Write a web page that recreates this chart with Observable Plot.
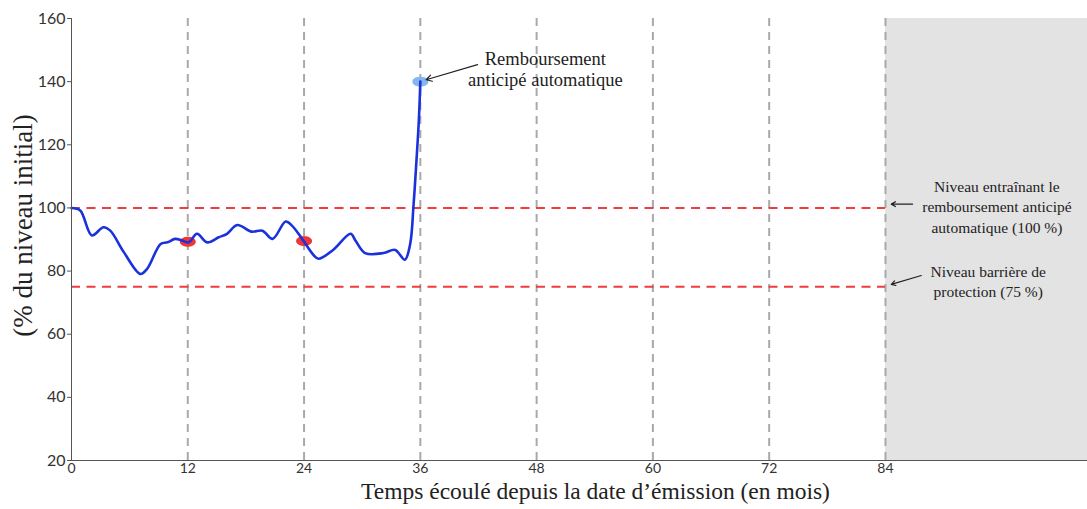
<!DOCTYPE html>
<html>
<head>
<meta charset="utf-8">
<script src="https://cdn.jsdelivr.net/npm/d3@7"></script>
<script src="https://cdn.jsdelivr.net/npm/@observablehq/plot@0.6"></script>
<style>
  html, body { margin: 0; padding: 0; background: #fff; }
  #chart svg { display: block; }
</style>
</head>
<body>
<div id="chart"></div>
<script>
// Underlying path (% of initial level) by elapsed month
const months = [0, 0.9, 2.1, 3.3, 4.0, 5.4, 7.1, 7.8, 9.2, 9.9, 10.7, 11.4, 12.1, 12.95, 14.0, 15.2, 16.05, 17.1, 18.6, 19.7, 20.75, 22.1, 22.75, 23.8, 25.0, 25.5, 27.0, 28.8, 29.3, 30.3, 32.2, 33.4, 34.4, 34.95, 35.3, 35.6, 35.85, 36];
const values = [100, 99.2, 91.3, 93.9, 92.8, 86, 79.1, 80.7, 88.6, 89.1, 90.2, 89.7, 89.1, 91.8, 89.1, 90.7, 91.8, 94.6, 92.5, 92.8, 90.2, 95.7, 94.4, 90.2, 85, 83.9, 86.7, 91.8, 89.7, 85.7, 85.7, 86.7, 83.6, 88.6, 101, 115, 128, 140];

const observationMonths = [12, 24];
const observationValues = [89.3, 89.5];
const earlyRedemptionMonth = 36;
const earlyRedemptionValue = 140;

const xTicks = [0, 12, 24, 36, 48, 60, 72, 84];
const yTicks = [20, 40, 60, 80, 100, 120, 140, 160];
const gridMonths = [12, 24, 36, 48, 60, 72, 84];
const autocallLevel = 100;
const barrierLevel = 75;
const maturityMonth = 84;
const xMax = 104.85;

const yLabel = "(% du niveau initial)";
const xLabel = "Temps écoulé depuis la date d’émission (en mois)";
const noteTop = "Remboursement\nanticipé automatique";
const noteAutocall = "Niveau entraînant le\nremboursement anticipé\nautomatique (100 %)";
const noteBarrier = "Niveau barrière de\nprotection (75 %)";

const series = months.map((m, i) => ({m, v: values[i]}));
const obs = observationMonths.map((m, i) => ({m, v: observationValues[i]}));

const ellipse = {
  draw(ctx, size) {
    const r = Math.sqrt(size / Math.PI);
    const rx = r * 1.6, ry = r;
    ctx.moveTo(rx, 0);
    for (let i = 1; i < 40; i++) {
      const a = i / 40 * 2 * Math.PI;
      ctx.lineTo(rx * Math.cos(a), ry * Math.sin(a));
    }
    ctx.closePath();
  }
};

const serif = "'Liberation Serif', 'DejaVu Serif', serif";
const sans = "'Liberation Sans Narrow', Lato, 'Open Sans', sans-serif";

const chart = Plot.plot({
  width: 1087,
  height: 509,
  marginLeft: 71,
  marginRight: 0,
  marginTop: 18,
  marginBottom: 49,
  style: {fontFamily: sans, background: "#fff"},
  x: {domain: [0, xMax]},
  y: {domain: [20, 160]},
  marks: [
    Plot.rect([{x1: maturityMonth, x2: xMax, y1: 20, y2: 160}], {x1: "x1", x2: "x2", y1: "y1", y2: "y2", fill: "#e3e3e3"}),
    Plot.ruleX(gridMonths, {y1: 20, y2: 160, stroke: "#a9a9a9", strokeWidth: 2, strokeDasharray: "8,6"}),
    Plot.ruleY([autocallLevel, barrierLevel], {x1: 0, x2: maturityMonth, stroke: "#f03c3c", strokeWidth: 2, strokeDasharray: "9,6.5"}),
    Plot.dot(obs, {x: "m", y: "v", r: 5, symbol: ellipse, fill: "#f03535", stroke: "none"}),
    Plot.dot([{m: earlyRedemptionMonth, v: earlyRedemptionValue}], {x: "m", y: "v", r: 5, symbol: ellipse, fill: "#86b6f0", stroke: "none"}),
    Plot.line(series, {x: "m", y: "v", curve: "catmull-rom", stroke: "#1a32dc", strokeWidth: 2.6}),
    Plot.ruleY([20], {x1: 0, x2: xMax, stroke: "#555", strokeWidth: 1}),
    Plot.ruleX([0], {y1: 20, y2: 160, stroke: "#555", strokeWidth: 1}),
    Plot.axisY({ticks: yTicks, tickSize: 4, tickPadding: 2, fontSize: 16, color: "#333", label: null, stroke: "#555"}),
    Plot.axisX({ticks: xTicks, tickSize: 0, tickPadding: 3, fontSize: 14, color: "#333", label: null}),
    Plot.text([yLabel], {frameAnchor: "left", textAnchor: "middle", rotate: -90, dx: -48, dy: -14, fontSize: 27, fontFamily: serif, fill: "#222"}),
    Plot.text([xLabel], {frameAnchor: "bottom", textAnchor: "middle", dx: 16, dy: 38.5, fontSize: 23.5, fontFamily: serif, fill: "#222"}),
    Plot.text([noteTop], {x: 48.9, y: 144, fontSize: 18.5, lineHeight: 1.15, fontFamily: serif, fill: "#222"}),
    Plot.arrow([{x1: 41.9, y1: 145.4, x2: 36.6, y2: 140.6}], {x1: "x1", y1: "y1", x2: "x2", y2: "y2", stroke: "#222", strokeWidth: 1.2, headLength: 8}),
    Plot.text([noteAutocall], {x: 95.5, y: 100.6, fontSize: 15.5, lineHeight: 1.3, fontFamily: serif, fill: "#222"}),
    Plot.arrow([{x1: 86.8, y1: 101.2, x2: 84.6, y2: 101.2}], {x1: "x1", y1: "y1", x2: "x2", y2: "y2", stroke: "#222", strokeWidth: 1.2, headLength: 6}),
    Plot.text([noteBarrier], {x: 94.6, y: 77.0, fontSize: 15.5, lineHeight: 1.3, fontFamily: serif, fill: "#222"}),
    Plot.arrow([{x1: 87.7, y1: 78.6, x2: 84.6, y2: 75.8}], {x1: "x1", y1: "y1", x2: "x2", y2: "y2", stroke: "#222", strokeWidth: 1.2, headLength: 6})
  ]
});
document.getElementById("chart").appendChild(chart);
</script>
</body>
</html>
